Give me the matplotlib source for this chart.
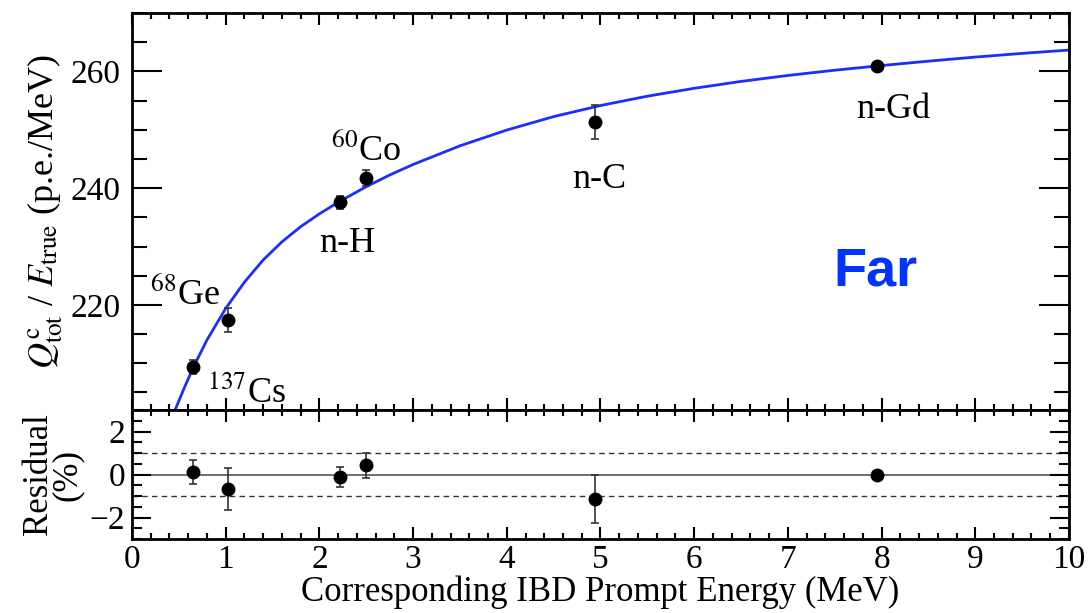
import matplotlib
matplotlib.use("Agg")
import matplotlib.pyplot as plt
from matplotlib.ticker import MultipleLocator

plt.rcParams['font.family'] = ['Liberation Serif', 'DejaVu Serif']
plt.rcParams['mathtext.fontset'] = 'stix'

# calibration points
sources = ['$^{137}$Cs', '$^{68}$Ge', 'n-H', '$^{60}$Co', 'n-C', 'n-Gd']
energy = [0.654, 1.02, 2.22, 2.50, 4.94, 7.95]
ratio = [209.4, 217.4, 237.6, 241.7, 251.3, 261.0]
ratio_err = [1.2, 2.1, 1.1, 1.4, 2.9, 0.0]
residual = [0.11, -0.68, -0.11, 0.42, -1.13, -0.02]
residual_err = [0.57, 0.97, 0.46, 0.60, 1.12, 0.0]

# fitted curve
fit_e = [0.46, 0.55, 0.654, 0.80, 1.00, 1.20, 1.40, 1.60, 1.80, 2.00, 2.22, 2.50,
         2.75, 3.00, 3.50, 4.00, 4.50, 5.00, 5.50, 6.00, 6.50, 7.00, 7.50, 8.00,
         8.50, 9.00, 9.50, 10.0]
fit_q = [202.0, 205.5, 209.3, 214.0, 219.4, 223.9, 227.7, 230.8, 233.4, 235.6,
         237.76, 240.25, 242.25, 244.05, 247.25, 249.95, 252.25, 254.15, 255.75,
         257.1, 258.28, 259.3, 260.2, 261.0, 261.75, 262.45, 263.08, 263.65]

# label positions (x centre, baseline y) in data units
label_x = [1.22, 0.57, 2.30, 2.50, 4.99, 8.12]
label_y = [203.4, 220.1, 229.0, 244.85, 240.0, 252.0]

fig = plt.figure(figsize=(10.91, 6.13), dpi=100)
ax = fig.add_axes([0.121, 0.3312, 0.8588, 0.6476])
axr = fig.add_axes([0.121, 0.1207, 0.8588, 0.2104], sharex=ax)

ax.plot(fit_e, fit_q, color='#1a2fff', lw=2.0, zorder=2)
ax.errorbar(energy, ratio, yerr=ratio_err, fmt='o', color='black', ecolor='#333333',
            ms=9, elinewidth=1.2, capsize=3, capthick=1.2, zorder=3)
for s, x, y in zip(sources, label_x, label_y):
    ax.text(x, y, s, fontsize=26, ha='center', va='baseline')
ax.text(7.93, 223.4, 'Far', fontsize=39, color='#0033ff', fontweight='bold',
        family='Liberation Sans', ha='center', va='baseline')

ax.set_xlim(0, 10)
ax.set_ylim(202, 270)
ax.yaxis.set_major_locator(MultipleLocator(20))
ax.yaxis.set_minor_locator(MultipleLocator(5))
ax.set_ylabel(r'$Q^{\rm c}_{\rm tot}$ / $E_{\rm true}$ (p.e./MeV)', fontsize=26, labelpad=4)

axr.axhline(0, color='#555555', lw=1.2, zorder=1)
axr.axhline(1, color='#333333', lw=1.0, ls='--', dashes=(4, 3), zorder=1)
axr.axhline(-1, color='#333333', lw=1.0, ls='--', dashes=(4, 3), zorder=1)
axr.errorbar(energy, residual, yerr=residual_err, fmt='o', color='black', ecolor='#333333',
             ms=9, elinewidth=1.2, capsize=3, capthick=1.2, zorder=3)
axr.set_ylim(-3, 3)
axr.yaxis.set_major_locator(MultipleLocator(2))
axr.yaxis.set_minor_locator(MultipleLocator(0.5))
axr.xaxis.set_major_locator(MultipleLocator(1))
axr.xaxis.set_minor_locator(MultipleLocator(0.2))
axr.set_ylabel('Residual\n(%)', fontsize=25, linespacing=0.85, labelpad=4)
axr.set_xlabel('Corresponding IBD Prompt Energy (MeV)', fontsize=25, labelpad=0)

for a in (ax, axr):
    for sp in a.spines.values():
        sp.set_linewidth(2.0)
    a.tick_params(which='both', direction='in', top=True, right=True, width=1.5,
                  labelsize=24, colors='black')
    a.tick_params(axis='x', which='major', length=8.6)
    a.tick_params(axis='x', which='minor', length=4.3)
ax.tick_params(axis='y', which='major', length=21.6, pad=8)
ax.tick_params(axis='y', which='minor', length=10.8)
ax.tick_params(axis='x', labelbottom=False)
axr.tick_params(axis='y', which='major', length=13.7, pad=5)
axr.tick_params(axis='y', which='minor', length=7.0)
axr.tick_params(axis='x', pad=4)

fig.savefig('out.png', dpi=100)
